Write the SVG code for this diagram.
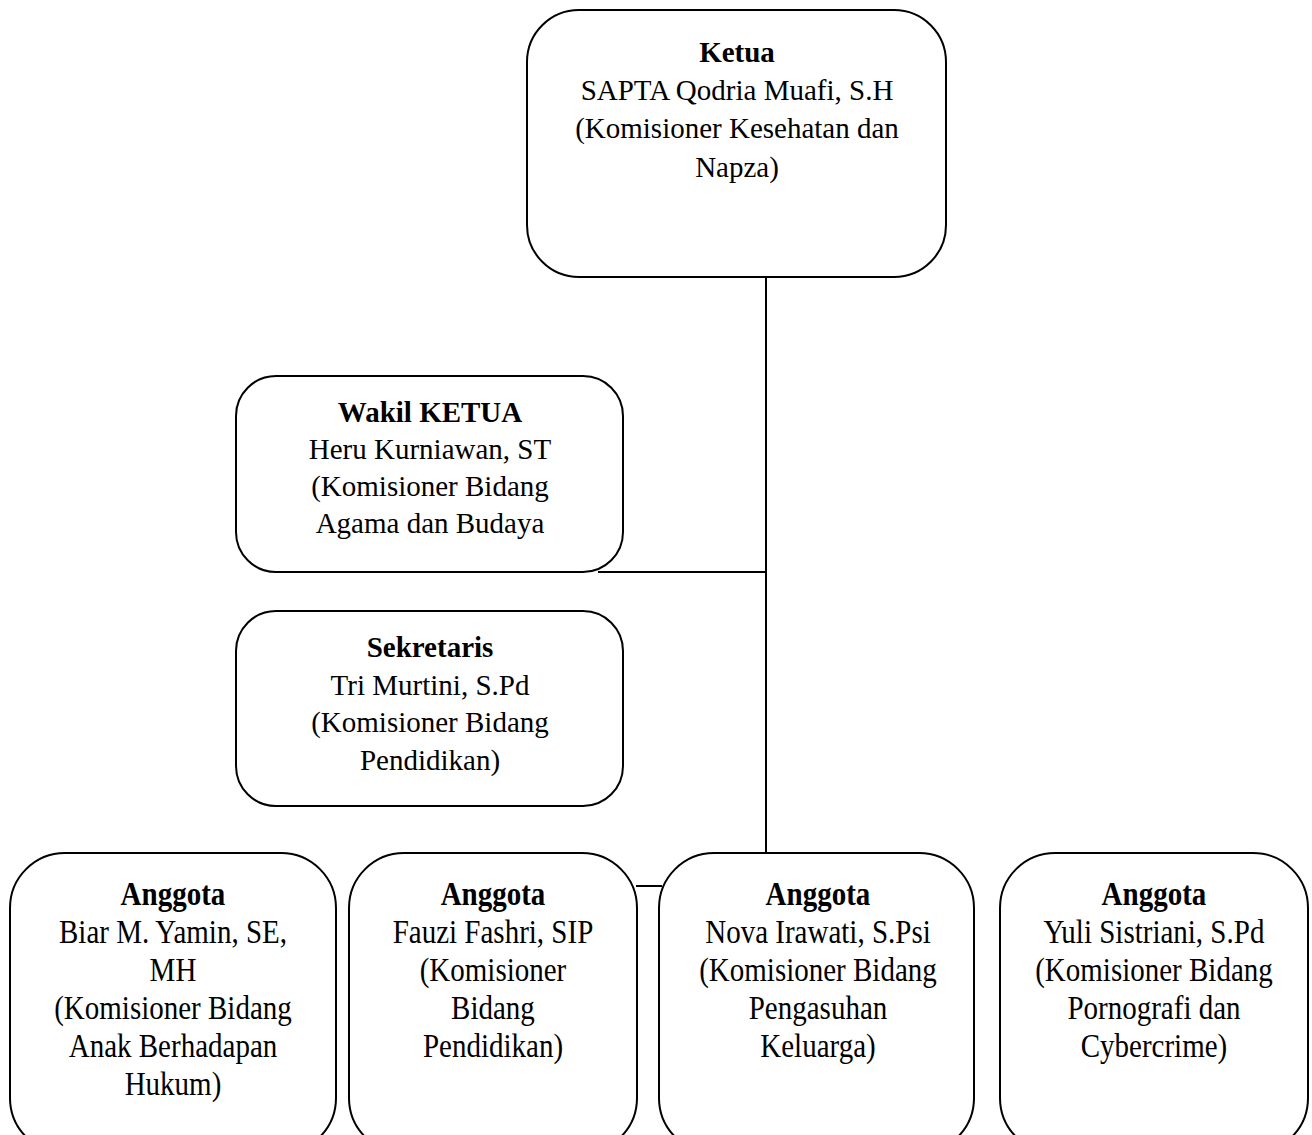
<svg xmlns="http://www.w3.org/2000/svg" width="1312" height="1135" viewBox="0 0 1312 1135">
<style>
.box{fill:#fff;stroke:#000;stroke-width:2}
.t{font-family:"Liberation Serif","Times New Roman",serif;font-size:29px;fill:#000;text-anchor:middle}
.b{font-weight:bold}
.c{fill:none;stroke:#000;stroke-width:2}
</style>
<rect width="1312" height="1135" fill="#fff"/>
<g id="connectors">
<line class="c" x1="766" y1="277" x2="766" y2="853"/>
<line class="c" x1="598" y1="572" x2="766" y2="572"/>
<line class="c" x1="636" y1="886" x2="662" y2="886"/>
</g>
<g id="ketua">
<rect class="box" x="527" y="10" width="419" height="267" rx="52"/>
<text class="t b" x="737" y="62">Ketua</text>
<text class="t" x="737" y="100">SAPTA Qodria Muafi, S.H</text>
<text class="t" x="737" y="138">(Komisioner Kesehatan dan</text>
<text class="t" x="737" y="177">Napza)</text>
</g>
<g id="wakil">
<rect class="box" x="236" y="376" width="387" height="196" rx="40"/>
<text class="t b" x="430" y="422">Wakil KETUA</text>
<text class="t" x="430" y="459">Heru Kurniawan, ST</text>
<text class="t" x="430" y="496">(Komisioner Bidang</text>
<text class="t" x="430" y="533">Agama dan Budaya</text>
</g>
<g id="sekretaris">
<rect class="box" x="236" y="611" width="387" height="195" rx="40"/>
<text class="t b" x="430" y="657">Sekretaris</text>
<text class="t" x="430" y="695">Tri Murtini, S.Pd</text>
<text class="t" x="430" y="732">(Komisioner Bidang</text>
<text class="t" x="430" y="770">Pendidikan)</text>
</g>
<g id="anggota1">
<rect class="box" x="10" y="853" width="326" height="300" rx="55"/>
<g transform="matrix(1 0 0 1.15 0 -135.75)">
<text class="t b" x="173" y="905">Anggota</text>
<text class="t" x="173" y="938">Biar M. Yamin, SE,</text>
<text class="t" x="173" y="971">MH</text>
<text class="t" x="173" y="1004">(Komisioner Bidang</text>
<text class="t" x="173" y="1037">Anak Berhadapan</text>
<text class="t" x="173" y="1070">Hukum)</text>
</g>
</g>
<g id="anggota2">
<rect class="box" x="349" y="853" width="288" height="300" rx="55"/>
<g transform="matrix(1 0 0 1.15 0 -135.75)">
<text class="t b" x="493" y="905">Anggota</text>
<text class="t" x="493" y="938">Fauzi Fashri, SIP</text>
<text class="t" x="493" y="971">(Komisioner</text>
<text class="t" x="493" y="1004">Bidang</text>
<text class="t" x="493" y="1037">Pendidikan)</text>
</g>
</g>
<g id="anggota3">
<rect class="box" x="659" y="853" width="315" height="300" rx="55"/>
<g transform="matrix(1 0 0 1.15 0 -135.75)">
<text class="t b" x="818" y="905">Anggota</text>
<text class="t" x="818" y="938">Nova Irawati, S.Psi</text>
<text class="t" x="818" y="971">(Komisioner Bidang</text>
<text class="t" x="818" y="1004">Pengasuhan</text>
<text class="t" x="818" y="1037">Keluarga)</text>
</g>
</g>
<g id="anggota4">
<rect class="box" x="1000" y="853" width="308" height="300" rx="55"/>
<g transform="matrix(1 0 0 1.15 0 -135.75)">
<text class="t b" x="1154" y="905">Anggota</text>
<text class="t" x="1154" y="938">Yuli Sistriani, S.Pd</text>
<text class="t" x="1154" y="971">(Komisioner Bidang</text>
<text class="t" x="1154" y="1004">Pornografi dan</text>
<text class="t" x="1154" y="1037">Cybercrime)</text>
</g>
</g>
</svg>
